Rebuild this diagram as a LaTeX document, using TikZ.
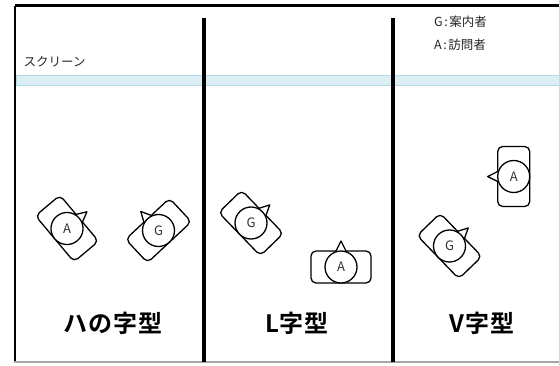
\documentclass[tikz,border=0pt]{standalone}
\usepackage{fontspec}
\setmainfont{Noto Sans CJK JP}[BoldFont={Noto Sans CJK JP Bold}]
\newfontfamily\titlefont{Noto Sans CJK JP Bold}[LetterSpace=4]
\definecolor{scrfill}{HTML}{DBEEF4}
\definecolor{scrdraw}{HTML}{B4DAE6}
\definecolor{lbl}{HTML}{333333}
\tikzset{
  body/.style={draw=black, line width=1.3pt, line join=round},
  divider/.style={line width=4pt, black},
  frameline/.style={line width=2.4pt, black},
  lbltext/.style={font=\fontsize{13pt}{13pt}\selectfont, text=lbl, inner sep=0pt},
  title/.style={font=\fontsize{24pt}{24pt}\titlefont, inner sep=0pt},
  small/.style={font=\fontsize{12.5pt}{12.5pt}\selectfont, text=black!85, inner sep=0pt, anchor=west},
  person/.pic={
    \draw[body, rounded corners=5pt] (-30,-16) rectangle (30,16);
    \draw[body, fill=white] (-5.5,-15) -- (0,-26) -- (5.5,-15) -- cycle;
    \draw[body, fill=white] (0,0) circle[radius=16pt];
    \node[lbltext] (-lab) at (0,0) {#1};
  }
}
\begin{document}
\begin{tikzpicture}[x=1pt,y=-1pt]
  \useasboundingbox (0,0) rectangle (559,365);
  % frame
  \draw[frameline] (14.7,5.5) coordinate (tl) -- (559,5.5) coordinate (tr);
  \draw[frameline] (tl) -- (14.7,362) coordinate (bl);
  \draw[gray!70, line width=1.6pt] (13.5,362) -- (559,362) coordinate (br);
  % screen
  \draw[fill=scrfill, draw=scrdraw, line width=0.8pt] (16.7,75) rectangle (560,85);
  \node[small] (scr) at (23.5,62) {スクリーン};
  % dividers
  \draw[divider] (203.5,18) coordinate (d1t) -- (203.5,362) coordinate (d1b);
  \draw[divider] (393.3,18) coordinate (d2t) -- (393.3,362) coordinate (d2b);
  % legend
  \node[small] (lg) at (434,22) {G\hspace{1.5pt}:\hspace{1.5pt}案内者};
  \node[small] (la) at (434,45) {A\hspace{1.5pt}:\hspace{1.5pt}訪問者};
  % persons
  \pic[rotate=-50] (p1) at (67,228.5) {person=A};
  \pic[rotate=43] (p2) at (158.5,230.5) {person=G};
  \pic[rotate=-46] (p3) at (251,223) {person=G};
  \pic (p4) at (341,267) {person=A};
  \pic[rotate=90] (p5) at (513.7,176.5) {person=A};
  \pic[rotate=-46] (p6) at (449.5,246) {person=G};
  % titles
  \node[title] (t1) at (113,323) {ハの字型};
  \node[title] (t2) at (297,323) {L字型};
  \node[title] (t3) at (482,323) {V字型};
\end{tikzpicture}
\end{document}
